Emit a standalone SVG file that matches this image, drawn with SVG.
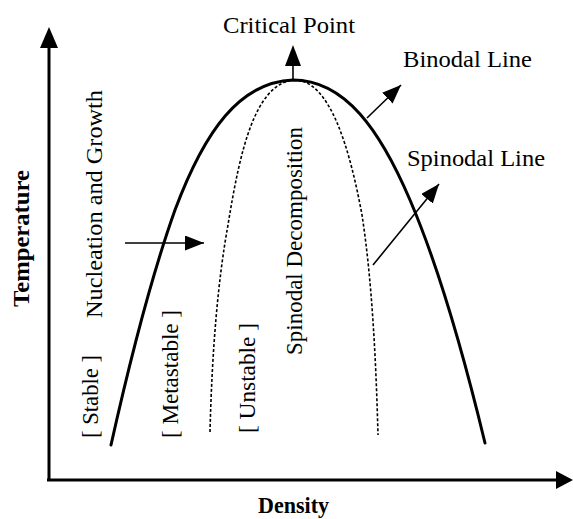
<svg xmlns="http://www.w3.org/2000/svg" width="573" height="519" viewBox="0 0 573 519">
<style>
.t{font-family:"Liberation Serif","Times New Roman",serif;font-size:23px;fill:#000}
.b{font-family:"Liberation Serif","Times New Roman",serif;font-size:23px;font-weight:bold;fill:#000}
.axis{stroke:#000;stroke-width:3;fill:none}
.thin{stroke:#000;stroke-width:1.6;fill:none}
.bin{stroke:#000;stroke-width:3;fill:none;stroke-linecap:round}
.spin{stroke:#000;stroke-width:1.6;fill:none;stroke-dasharray:3 2}
</style>
<defs>
<marker id="ah" markerUnits="userSpaceOnUse" markerWidth="20" markerHeight="16" refX="19" refY="7.5" orient="auto">
<path d="M0,0 L19,7.5 L0,15 z" fill="#000"/>
</marker>
</defs>
<rect width="573" height="519" fill="#fff"/>
<g id="axes">
<line class="axis" x1="49" y1="481" x2="49" y2="45"/>
<polygon points="49,27 40,48 58,48" fill="#000"/>
<line class="axis" x1="47" y1="480" x2="558" y2="480"/>
<polygon points="573,480 556,471 556,489" fill="#000"/>
</g>
<g id="binodal">
<path class="bin" d="M111,445 C130,360 150,280 175,210 C205,130 240,82 293,80 C345,80 380,130 410,200 C440,270 465,360 485,443"/>
</g>
<g id="spinodal">
<path class="spin" d="M210,432 C212,350 218,280 228,225 C240,150 255,85 293,80 C330,78 350,150 362,215 C372,280 376,360 378,435"/>
</g>
<g id="connectors">
<line class="thin" x1="293" y1="80" x2="293" y2="62"/>
<polygon points="293,45 285,66 301,66" fill="#000"/>
<line class="thin" x1="367" y1="118" x2="401" y2="85" marker-end="url(#ah)"/>
<line class="thin" x1="373" y1="265" x2="439" y2="184" marker-end="url(#ah)"/>
<line class="thin" x1="125" y1="243" x2="204" y2="243" marker-end="url(#ah)"/>
</g>
<g id="labels">
<text class="t" x="223" y="33" textLength="132" lengthAdjust="spacingAndGlyphs">Critical Point</text>
<text class="t" x="403" y="67" textLength="129" lengthAdjust="spacingAndGlyphs">Binodal Line</text>
<text class="t" x="407" y="166" textLength="138" lengthAdjust="spacingAndGlyphs">Spinodal Line</text>
<text class="b" x="258" y="513" textLength="71" lengthAdjust="spacingAndGlyphs">Density</text>
<text class="b" style="font-size:24px" x="29" y="307" transform="rotate(-90 29 307)" textLength="137" lengthAdjust="spacingAndGlyphs">Temperature</text>
<text class="t" x="102" y="318" transform="rotate(-90 102 318)" textLength="228" lengthAdjust="spacingAndGlyphs">Nucleation and Growth</text>
<text class="t" x="302" y="355" transform="rotate(-90 302 355)" textLength="228" lengthAdjust="spacingAndGlyphs">Spinodal Decomposition</text>
<text class="t" x="98" y="438" transform="rotate(-90 98 438)" textLength="83" lengthAdjust="spacingAndGlyphs">[ Stable ]</text>
<text class="t" x="178" y="438" transform="rotate(-90 178 438)" textLength="128" lengthAdjust="spacingAndGlyphs">[ Metastable ]</text>
<text class="t" x="255" y="433" transform="rotate(-90 255 433)" textLength="110" lengthAdjust="spacingAndGlyphs">[ Unstable ]</text>
</g>
</svg>
